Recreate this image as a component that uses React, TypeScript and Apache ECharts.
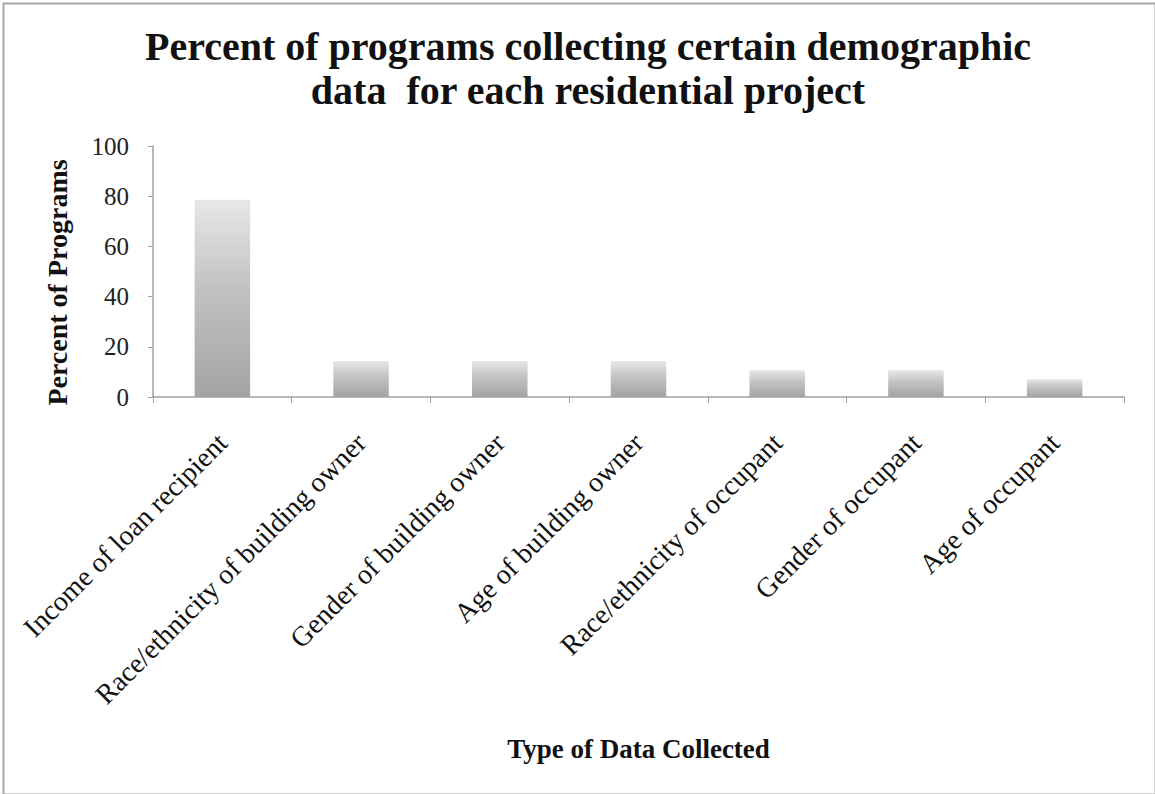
import React, { useEffect, useRef } from "react";
import * as echarts from "echarts";

// Share of programs (%) that collect each kind of demographic data
const categories = [
  "Income of loan recipient",
  "Race/ethnicity of building owner",
  "Gender of building owner",
  "Age of building owner",
  "Race/ethnicity of occupant",
  "Gender of occupant",
  "Age of occupant",
];
const percentValues = [78.6, 14.3, 14.3, 14.3, 10.7, 10.7, 7.1];
const yTicks = { min: 0, max: 100, interval: 20 };

const titleLines = [
  "Percent of programs collecting certain demographic",
  "data  for each residential project",
];
const yAxisTitle = "Percent of Programs";
const xAxisTitle = "Type of Data Collected";

const SERIF = "'Liberation Serif', 'DejaVu Serif', serif";

export default function App() {
  const ref = useRef<HTMLDivElement>(null);

  useEffect(() => {
    if (!ref.current) return;
    const chart = echarts.init(ref.current, undefined, { renderer: "svg" });

    const barFill = new echarts.graphic.LinearGradient(0, 0, 0, 1, [
      { offset: 0, color: "#e7e7e7" },
      { offset: 0.45, color: "#c2c2c2" },
      { offset: 1, color: "#a3a3a3" },
    ]);

    chart.setOption({
      animation: false,
      backgroundColor: "#ffffff",
      title: {
        text: titleLines.join("\n"),
        left: 583,
        top: 19,
        textAlign: "center",
        textStyle: {
          fontFamily: SERIF,
          fontWeight: "bold",
          fontSize: 40,
          lineHeight: 44,
          color: "#111111",
        },
      },
      grid: { left: 153, right: 31, top: 146, bottom: 397 },
      xAxis: {
        type: "category",
        data: categories,
        name: xAxisTitle,
        nameLocation: "middle",
        nameGap: 338,
        nameTextStyle: {
          fontFamily: SERIF,
          fontWeight: "bold",
          fontSize: 27,
          color: "#111111",
        },
        axisLine: { lineStyle: { color: "#a0a0a0", width: 1.5 } },
        axisTick: { show: true, length: 6, lineStyle: { color: "#a0a0a0" } },
        axisLabel: {
          interval: 0,
          rotate: 45,
          margin: 41,
          align: "right",
          verticalAlign: "middle",
          fontFamily: SERIF,
          fontSize: 28,
          color: "#111111",
        },
      },
      yAxis: {
        type: "value",
        min: yTicks.min,
        max: yTicks.max,
        interval: yTicks.interval,
        name: yAxisTitle,
        nameLocation: "middle",
        nameGap: 82,
        nameRotate: 90,
        nameTextStyle: {
          fontFamily: SERIF,
          fontWeight: "bold",
          fontSize: 28,
          color: "#111111",
          padding: [0, 22, 0, 0],
        },
        splitLine: { show: false },
        axisLine: { show: true, lineStyle: { color: "#a0a0a0", width: 1.5 } },
        axisTick: { show: true, length: 5, lineStyle: { color: "#a0a0a0" } },
        axisLabel: {
          margin: 24,
          fontFamily: SERIF,
          fontSize: 25,
          color: "#222222",
        },
      },
      series: [
        {
          type: "bar",
          data: percentValues,
          barWidth: "40%",
          itemStyle: { color: barFill },
        },
      ],
      graphic: [
        {
          type: "rect",
          left: 1,
          top: 1,
          shape: { x: 0, y: 0, width: 1152, height: 791 },
          style: { fill: "none", stroke: "#a8a8a8", lineWidth: 2 },
          silent: true,
        },
      ],
    });

    return () => chart.dispose();
  }, []);

  return (
    <div
      ref={ref}
      style={{ position: "fixed", left: 0, top: 0, width: 1155, height: 794 }}
    />
  );
}
